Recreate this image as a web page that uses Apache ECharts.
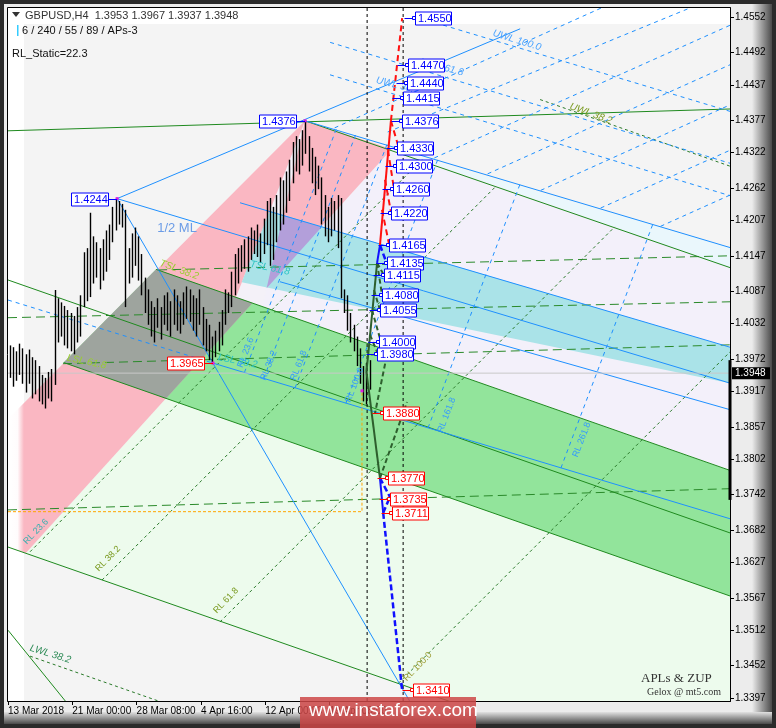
<!DOCTYPE html>
<html><head><meta charset="utf-8">
<script src="https://cdn.jsdelivr.net/npm/echarts@6/dist/echarts.min.js"></script>
<style>html,body{margin:0;padding:0;background:#2b2b2b;}#c{width:776px;height:728px;}</style>
</head><body><div id="c"></div>
<script>
// ---------------- DATA ----------------
const priceTicks = [1.4552,1.4492,1.4437,1.4377,1.4322,1.4262,1.4207,1.4147,1.4087,1.4032,1.3972,1.3917,1.3857,1.3802,1.3742,1.3682,1.3627,1.3567,1.3512,1.3452,1.3397];
const timeTickIdx = [-0.5,19.5,39.5,59.5,79.5,99.5];
const timeTickLabels = ['13 Mar 2018','21 Mar 00:00','28 Mar 08:00','4 Apr 16:00','12 Apr 00:00','19 Apr 08:00'];
const xMin = -0.5, xMax = 224.07, yMin = 1.33919, yMax = 1.45673;
const lastPrice = 1.3948;

const barHigh = [1.3995,1.3992,1.3985,1.3998,1.3990,1.3980,1.3988,1.3975,1.3970,1.3960,
 1.3945,1.3940,1.3950,1.3955,1.4089,1.4075,1.4068,1.4062,1.4055,1.4050,
 1.4045,1.4060,1.4080,1.4153,1.4160,1.4220,1.4180,1.4170,1.4160,1.4175,
 1.4190,1.4200,1.4230,1.4244,1.4240,1.4235,1.4225,1.4160,1.4185,1.4195,
 1.4180,1.4150,1.4110,1.4090,1.4070,1.4060,1.4075,1.4060,1.4080,1.4085,
 1.4070,1.4090,1.4080,1.4070,1.4085,1.4095,1.4090,1.4080,1.4075,1.4090,
 1.4060,1.4040,1.4030,1.4010,1.4020,1.4035,1.4055,1.4090,1.4085,1.4120,
 1.4150,1.4160,1.4165,1.4175,1.4180,1.4195,1.4190,1.4200,1.4185,1.4210,
 1.4240,1.4245,1.4230,1.4250,1.4280,1.4275,1.4290,1.4310,1.4340,1.4350,
 1.4345,1.4360,1.4376,1.4350,1.4330,1.4315,1.4300,1.4280,1.4250,1.4230,
 1.4245,1.4240,1.4250,1.4245,1.4090,1.4080,1.4050,1.4030,1.4010,1.3990,
 1.3960,1.3965,1.3970];
const barLow = [1.3940,1.3925,1.3935,1.3945,1.3930,1.3915,1.3930,1.3905,1.3912,1.3900,
 1.3895,1.3888,1.3905,1.3900,1.3928,1.4000,1.4010,1.3995,1.3990,1.3985,
 1.3980,1.4000,1.4010,1.4060,1.4070,1.4077,1.4100,1.4110,1.4090,1.4105,
 1.4120,1.4140,1.4170,1.4190,1.4200,1.4195,1.4060,1.4100,1.4110,1.4130,
 1.4105,1.4080,1.4050,1.4030,1.4010,1.4000,1.4025,1.4005,1.4030,1.4020,
 1.4010,1.4030,1.4020,1.4015,1.4030,1.4040,1.4035,1.4020,1.4010,1.4030,
 1.3995,1.3985,1.3970,1.3965,1.3975,1.3985,1.3995,1.4030,1.4050,1.4060,
 1.4080,1.4100,1.4120,1.4125,1.4120,1.4140,1.4150,1.4145,1.4135,1.4150,
 1.4165,1.4130,1.4140,1.4170,1.4190,1.4200,1.4220,1.4240,1.4270,1.4290,
 1.4285,1.4300,1.4320,1.4290,1.4270,1.4250,1.4260,1.4200,1.4180,1.4170,
 1.4180,1.4190,1.4160,1.4075,1.4050,1.4020,1.4000,1.3985,1.3960,1.3930,
 1.3900,1.3895,1.3920];

// pitchfork fills  [barIndex, price]
const fillLightGreen = [[48.65,1.3905],[224.07,1.3570],[224.07,1.3225],[5.07,1.3643]];
const fillDarkGreen  = [[45.57,1.4124],[224.07,1.3783],[224.07,1.3570],[16.8,1.3966]];
const fillLavender   = [[118.85,1.4328],[224.07,1.4127],[224.07,1.3783],[75.55,1.4067]];
const fillPink       = [[-0.5,1.3870],[91.9,1.4376],[118.85,1.4328],[5.07,1.3643],[-0.5,1.3653]];
const fillGray       = [[45.57,1.4124],[75.55,1.4067],[48.65,1.3905],[16.8,1.3966]];
const fillStrip      = [[91.9,1.4376],[70.45,1.4077],[78.63,1.4061]];
const fillCyan       = [[80.81,1.4223],[224.07,1.3992],[224.07,1.3931],[113.65,1.4055],[72.22,1.4102]];
const fillPurple     = [[85.07,1.4216],[97.08,1.4196],[79.94,1.4092]];
const fillPaleCyan   = [[118.85,1.4328],[224.07,1.4161],[224.07,1.4127]];

// lines
const greenSolid = [
 [[91.9,1.4376],[224.07,1.4127]],
 [[45.57,1.4124],[224.07,1.3783]],
 [[-0.5,1.4106],[224.07,1.3677]],
 [[16.8,1.3966],[224.07,1.3570]],
 [[-0.5,1.3653],[224.07,1.3225]],
 [[-0.5,1.4359],[224.07,1.4396]],
 [[-0.5,1.3512],[18.8,1.3382]]
];
const greenLongDash = [
 [[46.2,1.4123],[224.07,1.4147]],
 [[-0.5,1.4042],[224.07,1.4069]],
 [[16.6,1.3964],[224.07,1.3996]],
 [[-0.5,1.3716],[224.07,1.3752]]
];
const greenFineDash = [
 [[6.35,1.3645],[128.27,1.4310]],
 [[28.74,1.3597],[151.29,1.4265]],
 [[65.44,1.3526],[188.18,1.4196]],
 [[120.93,1.3422],[224.07,1.3984]],
 [[165.0,1.4412],[224.07,1.4299]],
 [[6.35,1.3468],[49.9,1.3385]]
];
const blueSolid = [
 [[33.44,1.4244],[224.07,1.3931]],
 [[91.9,1.4376],[224.07,1.4161]],
 [[63.27,1.3965],[224.07,1.3701]],
 [[33.44,1.4244],[124.4,1.3392]],
 [[33.44,1.4244],[158.8,1.4532]],
 [[71.67,1.4237],[224.07,1.3992]],
 [[84.1,1.4103],[224.07,1.3886]]
];
const blueDash = [
 [[99.7,1.4509],[224.07,1.4304]],
 [[127.7,1.4550],[224.07,1.4392]],
 [[99.66,1.4454],[224.07,1.4249]],
 [[-0.5,1.4072],[63.27,1.3965]],
 [[73.03,1.3949],[101.68,1.4363]],
 [[79.04,1.3939],[107.68,1.4353]],
 [[88.80,1.3923],[117.45,1.4337]],
 [[104.60,1.3897],[133.22,1.4311]],
 [[130.14,1.3855],[158.79,1.4269]],
 [[171.48,1.3787],[200.09,1.4201]],
 [[132.1,1.4313],[224.07,1.4538]],
 [[148.68,1.4286],[224.07,1.4471]],
 [[165.2,1.4258],[224.07,1.4403]],
 [[183.83,1.4228],[224.07,1.4326]],
 [[202.46,1.4197],[224.07,1.4250]],
 [[101.09,1.4364],[184.0,1.45673]],
 [[117.6,1.4357],[211.6,1.45673]]
];
const orangeDash = [[[-0.5,1.3713],[109.6,1.3713],[109.6,1.3919]]];
const blackVDash = [[[111.2,1.33919],[111.2,1.45673]],[[122.4,1.33919],[122.4,1.45673]]];
const rightMarker = [[[224.07,1.3970],[224.07,1.3733]]];

// ZUP projection
const zigGreen = [[[111.0,1.3950],[114.3,1.4135]],[[111.0,1.3950],[115.2,1.3770]]];
const zigBlue  = [[[114.3,1.4135],[115.2,1.4165]],[[115.2,1.3770],[116.2,1.3711]]];
const zigRed   = [[[115.2,1.4165],[118.6,1.4376]]];
const zigRedDash = [[[118.6,1.4376],[122.1,1.4550]],[[118.6,1.4376],[121.43,1.4323]],[[117.7,1.4326],[119.57,1.4260]],[[116.77,1.4276],[118.63,1.4221]],[[115.83,1.4225],[118.01,1.4167]]];
const zigBlueDash = [[[115.2,1.4165],[117.39,1.4133]],[[115.2,1.3770],[118.3,1.3738]],[[116.2,1.3711],[118.3,1.3738]],[[116.2,1.3711],[122.1,1.3410]]];
const zigGreenDash = [[[114.3,1.4135],[116.45,1.4114]],[[114.3,1.4135],[115.83,1.4081]],[[113.34,1.4089],[115.2,1.4055]],[[112.71,1.4055],[115.52,1.4001]],[[112.1,1.4013],[114.6,1.3980]],[[118.3,1.4004],[113.65,1.3880]],[[115.2,1.3770],[123.6,1.3899]]];

const levelValues = [1.4550,1.4470,1.4440,1.4415,1.4376,1.4330,1.4300,1.4260,1.4220,1.4165,1.4135,1.4115,1.4080,1.4055,1.4000,1.3980,1.3880,1.3770,1.3735,1.3711,1.3410];
const levelIdx    = [126.1,123.9,123.6,122.4,122.1,120.5,120.2,119.3,118.6,118.0,117.4,116.5,115.8,115.2,114.9,114.3,116.2,117.7,118.3,118.9,125.5];
const levelIsRed  = [0,0,0,0,0,0,0,0,0,0,0,0,0,0,0,0,1,1,1,1,1];

const pivotValues = [1.4244,1.3965,1.4376];
const pivotIdx    = [33.44,63.27,91.9];
const pivotIsRed  = [0,1,0];
const extraPivot  = [[109.6,1.3918]];

const annoText = ['1/2 ML','TSL 38.2','TSL 61.8','LSL 61.8','LSL 38.2','UWL 100.0','UWL 61.8','UWL 38.2','UWL 38.2','LWL 38.2',
 'RL 23.6','RL 38.2','RL 61.8','RL 100.0','RL 23.6','RL 38.2','RL 61.8','RL 100.0','RL 161.8','RL 261.8'];
const annoPos = [[45.9,1.4194],[46.78,1.4135],[74.77,1.4133],[17.85,1.3974],[64.82,1.3975],[150.35,1.4525],[127.7,1.4476],[114.0,1.4445],[174.3,1.4401],[6.35,1.3482],
 [4.79,1.3660],[27.19,1.3614],[63.89,1.3543],[123.0,1.3428],[71.66,1.3958],[78.82,1.3936],[88.15,1.3936],[105.26,1.3899],[133.9,1.3848],[175.9,1.3806]];

// ---------------- STYLES ----------------
const annoStyle = [
 {c:'#6a9be6',s:13,r:0,it:0},{c:'#9acd32',s:10,r:-0.35,it:1},{c:'#2ec4c4',s:10,r:-0.2,it:1},{c:'#9acd32',s:10,r:-0.2,it:1},{c:'#2ec4c4',s:10,r:-0.2,it:1},
 {c:'#4aa3ff',s:10,r:-0.3,it:1},{c:'#4aa3ff',s:10,r:-0.25,it:1},{c:'#4aa3ff',s:10,r:-0.25,it:1},{c:'#7a9a20',s:10,r:-0.35,it:1},{c:'#2e8b57',s:10,r:-0.3,it:1},
 {c:'#3cb0b0',s:9,r:0.8,it:0},{c:'#7a9a20',s:9,r:0.8,it:0},{c:'#7a9a20',s:9,r:0.8,it:0},{c:'#9a9a30',s:9,r:0.8,it:0},
 {c:'#3399ff',s:9,r:1.2,it:0},{c:'#3399ff',s:9,r:1.2,it:0},{c:'#3399ff',s:9,r:1.2,it:0},{c:'#3399ff',s:9,r:1.2,it:0},{c:'#3399ff',s:9,r:1.2,it:0},{c:'#3399ff',s:9,r:1.2,it:0}
];

const FONT = '"Liberation Sans", Arial, sans-serif';

function polySeries(polys, colors, z){
  return {type:'custom', z:z, clip:true, silent:true,
    data: polys.map((p,k)=>[p[0][0],p[0][1],k]), encode:{x:0,y:1},
    renderItem:(params,api)=>{ const k=params.dataIndex;
      return {type:'polygon', shape:{points: polys[k].map(pt=>api.coord(pt))}, style:{fill:colors[k]}}; }};
}
function lineSeries(segs, stroke, width, dash, z, clip){
  return {type:'custom', z:z, clip: clip!==false, silent:true,
    data: segs.map((s,k)=>[s[0][0],s[0][1],k]), encode:{x:0,y:1},
    renderItem:(params,api)=>{ const k=params.dataIndex;
      return {type:'polyline', shape:{points: segs[k].map(pt=>api.coord(pt))},
        style:{stroke:stroke, lineWidth:width, lineDash:dash||null, fill:null}}; }};
}

const series = [];
series.push(polySeries([fillLightGreen,fillDarkGreen,fillLavender,fillPaleCyan,fillPink,fillGray,fillStrip,fillCyan,fillPurple],
  ['#edfbed','#92e49b','#f3f0fa','#eaf7fc','#fab7c2','#9ea49e','#f4f1f8','#aae3e8','#b39fda'], 1));
series.push({type:'custom', z:1.5, silent:true, clip:true, data:[[xMin,yMax]], encode:{x:0,y:1},
  renderItem:(p,api)=>{ const a=api.coord([xMin,yMax]); const b=api.coord([xMin,yMin]);
    return {type:'rect', shape:{x:a[0],y:a[1],width:16,height:b[1]-a[1]},
      style:{fill:{type:'linear',x:0,y:0,x2:1,y2:0,colorStops:[{offset:0,color:'rgba(255,255,255,1)'},{offset:0.6,color:'rgba(255,255,255,0.95)'},{offset:1,color:'rgba(255,255,255,0)'}]}}};}});
series.push(lineSeries(greenLongDash,'#2a8a2a',1,[9,5],2));
series.push(lineSeries(greenFineDash,'#2a7a2a',1,[3,3],2));
series.push(lineSeries(greenSolid,'#1f8a1f',1,null,2));
series.push(lineSeries(blueDash,'#1e90ff',1,[4,4],2));
series.push(lineSeries(blueSolid,'#1e90ff',1,null,2));
series.push(lineSeries(orangeDash,'#ffa500',1,[3,2],2));
series.push(lineSeries([[[xMin,lastPrice],[xMax,lastPrice]]],'#c8c8c8',1,null,2));
series.push({type:'custom', z:3, silent:true, clip:true,
  data: barHigh.map((h,i)=>[i,h,barLow[i]]), encode:{x:0,y:[1,2]},
  renderItem:(params,api)=>{ const t=api.coord([api.value(0),api.value(1)]); const b=api.coord([api.value(0),api.value(2)]);
    const x=Math.round(t[0])+0.5;
    return {type:'line', shape:{x1:x,y1:t[1],x2:x,y2:b[1]}, style:{stroke:'#000',lineWidth:1.4}}; }});
series.push(lineSeries(blackVDash,'#000',1,[3,3],3.5));
series.push(lineSeries(zigGreenDash,'#2d5f2d',2,[5,3],4));
series.push(lineSeries(zigBlueDash,'#1010ff',2.5,[6,3],4));
series.push(lineSeries(zigRedDash,'#ff1010',2,[6,4],4));
series.push(lineSeries(zigGreen,'#2d5f2d',2,null,4.2));
series.push(lineSeries(zigBlue,'#1010ff',2,null,4.2));
series.push(lineSeries(zigRed,'#ff1010',2,null,4.2));
series.push(lineSeries(rightMarker,'#000',3,null,6,false));
series.push({type:'custom', z:4.5, silent:true, clip:true,
  data: annoPos.map((p,k)=>[p[0],p[1],k]), encode:{x:0,y:1},
  renderItem:(params,api)=>{ const k=params.dataIndex; const c=api.coord(annoPos[k]); const st=annoStyle[k];
    return {type:'text', x:c[0], y:c[1], rotation:st.r,
      style:{text:annoText[k], fill:st.c, font:(st.it?'italic ':'')+st.s+'px '+FONT, align:'left', verticalAlign:'middle'}}; }});
series.push({type:'custom', z:5, silent:true, clip:false,
  data: pivotIdx.map((x,k)=>[x,pivotValues[k]]).concat(extraPivot), encode:{x:0,y:1},
  renderItem:(params,api)=>{ const c=api.coord([api.value(0),api.value(1)]);
    return {type:'rect', shape:{x:c[0]-1.5,y:c[1]-1.5,width:3,height:3}, style:{fill:'#e020e0'}}; }});
series.push({type:'custom', z:6, silent:true, clip:false,
  data: pivotIdx.map((x,k)=>[x,pivotValues[k],k]), encode:{x:0,y:1},
  renderItem:(params,api)=>{ const k=params.dataIndex; const c=api.coord([pivotIdx[k],pivotValues[k]]);
    const col = pivotIsRed[k]?'#ff0000':'#0000ff';
    const x0=c[0]-46, y=Math.round(c[1])+0.5;
    return {type:'group', children:[
      {type:'line', shape:{x1:x0+37,y1:y,x2:c[0],y2:y}, style:{stroke:col,lineWidth:1}},
      {type:'rect', shape:{x:Math.round(x0)+0.5,y:y-6.5,width:37,height:13}, style:{fill:'#fff',stroke:col,lineWidth:1}},
      {type:'text', x:x0+3, y:y, style:{text:pivotValues[k].toFixed(4), fill:col, font:'11px '+FONT, align:'left', verticalAlign:'middle'}}
    ]}; }});
series.push({type:'custom', z:7, silent:true, clip:false,
  data: levelValues.map((v,k)=>[levelIdx[k],v,k]), encode:{x:0,y:1},
  renderItem:(params,api)=>{ const k=params.dataIndex; const c=api.coord([levelIdx[k],levelValues[k]]);
    const col = levelIsRed[k]?'#ff0000':'#0000ff';
    const x=Math.round(c[0])+0.5, y=Math.round(c[1])+0.5;
    return {type:'group', children:[
      {type:'line', shape:{x1:x-11,y1:y,x2:x,y2:y}, style:{stroke:col,lineWidth:1}},
      {type:'rect', shape:{x:x-3,y:y-2,width:3,height:3}, style:{fill:'#fff',stroke:col,lineWidth:1}},
      {type:'rect', shape:{x:x,y:y-6.5,width:36,height:13}, style:{fill:'#fff',stroke:col,lineWidth:1}},
      {type:'text', x:x+2.5, y:y, style:{text:levelValues[k].toFixed(4), fill:col, font:'11px '+FONT, align:'left', verticalAlign:'middle'}}
    ]}; }});
series.push({type:'custom', z:30, silent:true, clip:false, data:[[xMax,lastPrice]], encode:{x:0,y:1},
  renderItem:(params,api)=>{ const c=api.coord([xMax,lastPrice]);
    return {type:'group', children:[
      {type:'rect', shape:{x:c[0]+2,y:c[1]-6,width:38,height:12}, style:{fill:'#000'}},
      {type:'text', x:c[0]+5, y:c[1], style:{text:lastPrice.toFixed(4), fill:'#fff', font:'10px '+FONT, align:'left', verticalAlign:'middle'}}
    ]}; }});

const grad = (x,y,x2,y2,a,b)=>({type:'linear',x:x,y:y,x2:x2,y2:y2,colorStops:[{offset:0,color:a},{offset:1,color:b}]});
const option = {
  animation:false,
  backgroundColor:'#2b2b2b',
  grid:{left:8,top:8,right:46,bottom:27,show:false},
  xAxis:{type:'value',min:xMin,max:xMax,z:20,
    axisLine:{show:true,onZero:false,lineStyle:{color:'#000',width:1}},
    axisTick:{show:true,customValues:timeTickIdx,length:4,lineStyle:{color:'#000'}},
    axisLabel:{show:true,customValues:timeTickIdx,align:'left',margin:5,color:'#000',fontSize:10,fontFamily:FONT,
      formatter:(v)=>{ let best=0; timeTickIdx.forEach((t,k)=>{ if(Math.abs(t-v)<Math.abs(timeTickIdx[best]-v)) best=k; }); return timeTickLabels[best]; }},
    splitLine:{show:false}},
  yAxis:{type:'value',position:'right',min:yMin,max:yMax,scale:true,z:20,
    axisLine:{show:true,onZero:false,lineStyle:{color:'#000',width:1}},
    axisTick:{show:true,customValues:priceTicks,length:4,lineStyle:{color:'#000'}},
    axisLabel:{show:true,customValues:priceTicks,margin:5,color:'#000',fontSize:10,fontFamily:FONT,formatter:(v)=>v.toFixed(4)},
    splitLine:{show:false}},
  graphic:[
    {type:'rect', z:-10, shape:{x:4,y:4,width:768,height:720}, style:{fill:'#ececec'}},
    {type:'rect', z:-9, shape:{x:752,y:4,width:20,height:720}, style:{fill:grad(0,0,1,0,'#ececec','#4a4a4a')}},
    {type:'rect', z:-9, shape:{x:4,y:712,width:768,height:12}, style:{fill:grad(0,0,0,1,'#e2e2e2','#4a4a4a')}},
    {type:'rect', z:-8, shape:{x:8,y:8,width:722,height:693}, style:{fill:'#ffffff'}},
    {type:'rect', z:-7, shape:{x:24,y:24,width:706,height:677}, style:{fill:'#f4f4f4'}},
    {type:'rect', z:40, shape:{x:7.5,y:7.5,width:723,height:694}, style:{fill:null,stroke:'#000',lineWidth:1}},
    {type:'polygon', z:41, shape:{points:[[12,12],[20,12],[16,17]]}, style:{fill:'#333'}},
    {type:'text', z:41, x:25, y:10, style:{text:'GBPUSD,H4  1.3953 1.3967 1.3937 1.3948', fill:'#333', font:'11px '+FONT}},
    {type:'rect', z:41, shape:{x:17,y:25,width:1.5,height:11}, style:{fill:'#33ccff'}},
    {type:'text', z:41, x:22, y:25, style:{text:'6 / 240 / 55 / 89 / APs-3', fill:'#111', font:'11px '+FONT}},
    {type:'text', z:41, x:12, y:48, style:{text:'RL_Static=22.3', fill:'#111', font:'11px '+FONT}},
    {type:'text', z:41, x:641, y:672, style:{text:'APLs & ZUP', fill:'#333', font:'13px "Liberation Serif", serif'}},
    {type:'text', z:41, x:647, y:687, style:{text:'Gelox @ mt5.com', fill:'#333', font:'10px "Liberation Serif", serif'}},
    {type:'rect', z:50, shape:{x:300,y:697,width:176,height:31}, style:{fill:'rgba(205,70,70,0.85)'}},
    {type:'text', z:51, x:309, y:701, style:{text:'www.instaforex.com', fill:'#fff', font:'19px '+FONT}}
  ],
  series: series
};
const chart = echarts.init(document.getElementById('c'), null, {renderer:'canvas'});
chart.setOption(option);
</script></body></html>
